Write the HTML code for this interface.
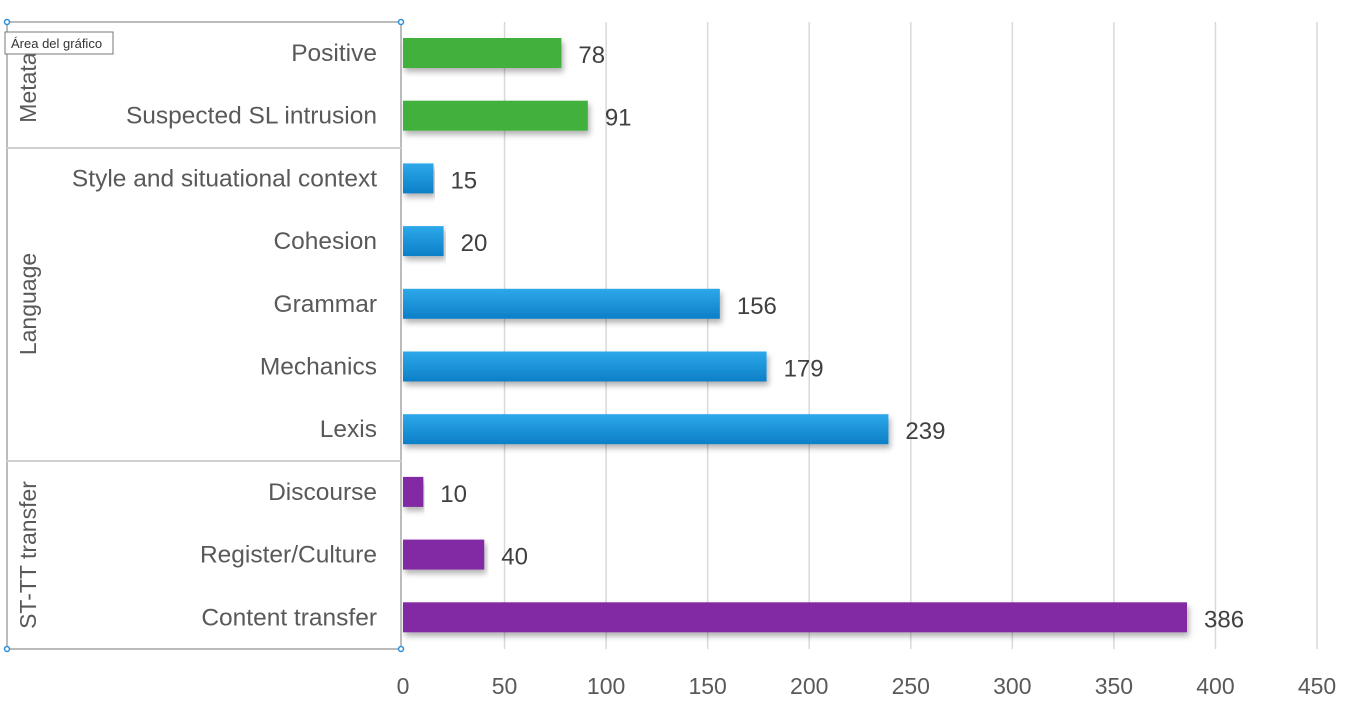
<!DOCTYPE html>
<html><head><meta charset="utf-8"><style>
body{margin:0;background:#fff;}
svg{display:block;font-family:"Liberation Sans",sans-serif;}
</style></head><body>
<svg id="chart" width="1354" height="707" viewBox="0 0 1354 707">
<defs>
<linearGradient id="blueG" x1="0" y1="0" x2="0" y2="1"><stop offset="0" stop-color="#2ea8ea"/><stop offset="1" stop-color="#0c7fc7"/></linearGradient>
<filter id="sh" x="-5%" y="-30%" width="110%" height="190%"><feDropShadow dx="2" dy="4" stdDeviation="3" flood-color="#000" flood-opacity="0.3"/></filter>
</defs>
<g id="grid"></g>
<g id="bars"></g>
<g id="labels"></g>
<rect x="7" y="22" width="394" height="627" fill="none" stroke="#a6a6a6" stroke-width="1.5"/>
<line x1="7" y1="148" x2="401" y2="148" stroke="#d0d0d0" stroke-width="2"/>
<line x1="7" y1="461" x2="401" y2="461" stroke="#d0d0d0" stroke-width="2"/>
<text transform="translate(36,85) rotate(-90)" text-anchor="middle" font-size="23" fill="#595959">Metatal</text>
<text transform="translate(36,304) rotate(-90)" text-anchor="middle" font-size="23" fill="#595959">Language</text>
<text transform="translate(36,555) rotate(-90)" text-anchor="middle" font-size="23" fill="#595959">ST-TT transfer</text>
<g>
<rect x="5" y="32" width="108" height="22" fill="#fff" stroke="#777" stroke-width="1"/>
<text x="11" y="48" font-size="13" fill="#333">Área del gráfico</text>
</g>
<circle cx="7" cy="22" r="2.5" fill="#fff" stroke="#2a8fd8" stroke-width="1.5"/>
<circle cx="401" cy="22" r="2.5" fill="#fff" stroke="#2a8fd8" stroke-width="1.5"/>
<circle cx="7" cy="649" r="2.5" fill="#fff" stroke="#2a8fd8" stroke-width="1.5"/>
<circle cx="401" cy="649" r="2.5" fill="#fff" stroke="#2a8fd8" stroke-width="1.5"/>
</svg>
<script>
const categories=["Positive","Suspected SL intrusion","Style and situational context","Cohesion ","Grammar","Mechanics","Lexis","Discourse","Register/Culture","Content transfer"];
const values=[78,91,15,20,156,179,239,10,40,386];
const groups=["meta","meta","lang","lang","lang","lang","lang","st","st","st"];
const ticks=[0,50,100,150,200,250,300,350,400,450];
const NS="http://www.w3.org/2000/svg";
const x0=403,x1=1317,vmax=450,plotTop=22,rowH=62.7,barH=30;
const xs=v=>x0+v/vmax*(x1-x0);
const yc=i=>plotTop+31+i*rowH;
const colors={meta:"#43b03d",lang:"url(#blueG)",st:"#8229a3"};
function mk(t,a,p){const e=document.createElementNS(NS,t);for(const k in a)e.setAttribute(k,a[k]);p.appendChild(e);return e;}
const grid=document.getElementById('grid'),bars=document.getElementById('bars'),labels=document.getElementById('labels');
ticks.forEach(t=>{
 if(t>0){const l=mk('line',{x1:xs(t),x2:xs(t),y1:plotTop,y2:649,stroke:'#d9d9d9','stroke-width':1.5},grid);
 
 }
 const tx=mk('text',{x:xs(t),y:694,'text-anchor':'middle','font-size':23,fill:'#595959'},labels);
 tx.textContent=t;
 
 
});
categories.forEach((c,i)=>{
 const y=yc(i);
 const r=mk('rect',{x:x0,y:y-barH/2,width:xs(values[i])-x0,height:barH,fill:colors[groups[i]],filter:'url(#sh)'},bars);
 
 
 const cl=mk('text',{x:377,y:y+8,'text-anchor':'end','font-size':24.5,fill:'#595959'},labels);
 cl.textContent=c;
 
 
 const vl=mk('text',{x:xs(values[i])+17,y:y+10,'font-size':24,fill:'#404040'},labels);
 vl.textContent=values[i];
 
 
});
</script>
</body></html>
